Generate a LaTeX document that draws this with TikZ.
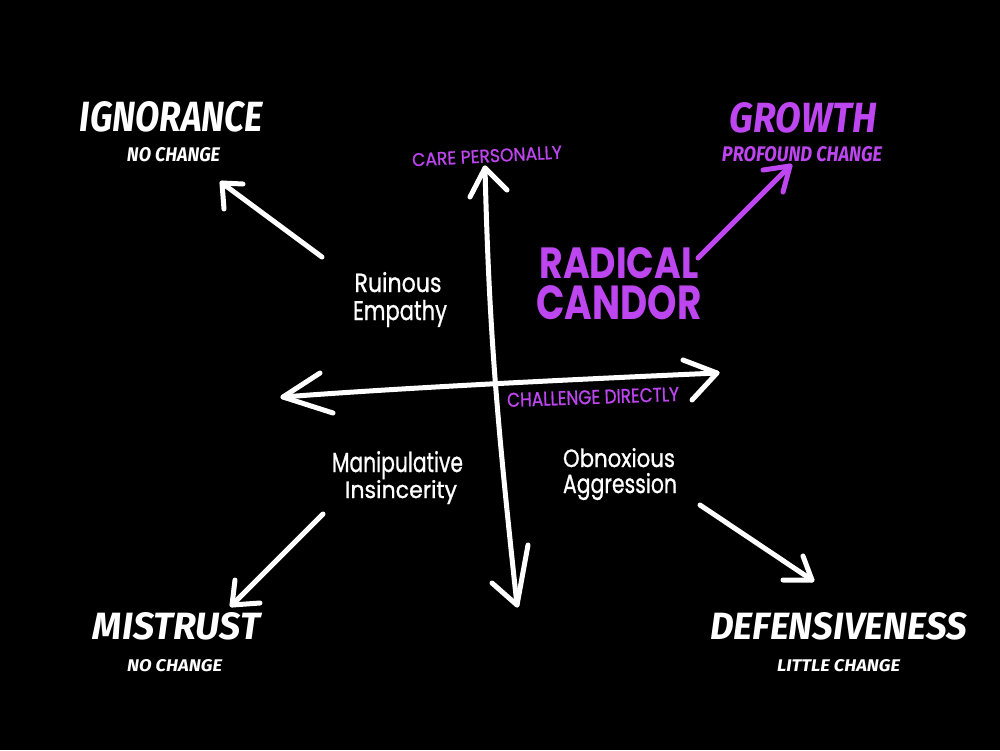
\documentclass[tikz,border=0pt]{standalone}
\usepackage{graphicx}
\usepackage{fontspec}
\setmainfont{Fira Sans}
\newfontfamily\brush{Fira Sans}
\newfontfamily\hand{Poppins}[FakeBold=1]
\newfontfamily\handb{Poppins}
\definecolor{candor}{RGB}{190,70,240}
\newcommand{\fitbox}[3]{\resizebox{#1pt}{#2pt}{#3}}
\tikzset{
  stroke/.style={white, line width=5pt, line cap=round, line join=round},
  pstroke/.style={stroke, candor},
  title/.style={inner sep=0pt, text=white, font=\brush\bfseries\itshape},
  ptitle/.style={title, text=candor},
  hlabel/.style={inner sep=0pt, text=white, font=\hand, anchor=base},
  plabel/.style={inner sep=0pt, text=candor, font=\hand}
}
\begin{document}
\begin{tikzpicture}[x=1pt,y=-1pt]
\fill[black] (0,0) rectangle (1000,750);
\useasboundingbox (0,0) rectangle (1000,750);

% outcome titles
\node[title]  (ign)    at (171.5,117)  {\fitbox{183}{30}{IGNORANCE}};
\node[title]  (ignsub) at (173.5,155)  {\fitbox{93}{14}{NO CHANGE}};
\node[ptitle] (gro)    at (803.5,118)  {\fitbox{147}{30}{GROWTH}};
\node[ptitle] (grosub) at (802,154.5)  {\fitbox{160}{15}{PROFOUND CHANGE}};
\node[title]  (mis)    at (176.5,626.5){\fitbox{167}{27}{MISTRUST}};
\node[title]  (missub) at (174.5,666)  {\fitbox{95}{12}{NO CHANGE}};
\node[title]  (def)    at (838.5,626.5){\fitbox{257}{27}{DEFENSIVENESS}};
\node[title]  (defsub) at (838.5,666)  {\fitbox{123}{12}{LITTLE CHANGE}};

% radical candor
\node[plabel, align=center, font={\handb\bfseries\fontsize{10}{41}\selectfont}] (rc)
  at (619,283.5) {\fitbox{159}{31}{RADICAL}\\\fitbox{165}{34}{CANDOR}};

% axis labels
\node[plabel, rotate=3] (care) at (487,156) {\fitbox{150}{13}{CARE PERSONALLY}};
\node[plabel, rotate=2] (chal) at (593,397) {\fitbox{172}{14}{CHALLENGE DIRECTLY}};

% quadrant labels
\node[hlabel] (re1) at (398,292) {\fitbox{87}{20}{Ruinous}};
\node[hlabel] (re2) at (400,320) {\fitbox{94}{20}{Empathy}};
\node[hlabel] (mi1) at (397.5,472) {\fitbox{131}{21}{Manipulative}};
\node[hlabel] (mi2) at (401,498) {\fitbox{112}{18}{Insincerity}};
\node[hlabel] (oa1) at (619,467) {\fitbox{112}{19}{Obnoxious}};
\node[hlabel] (oa2) at (620,493) {\fitbox{114}{20}{Aggression}};

% axis coordinates
\coordinate (vt)  at (485,168);
\coordinate (vb)  at (517,605);
\coordinate (vt1) at (470,197);
\coordinate (vt2) at (507,190);
\coordinate (vb1) at (492,583);
\coordinate (vb2) at (528,545);
\coordinate (hl)  at (283,397);
\coordinate (hr)  at (717,373);
\coordinate (hl1) at (320,373);
\coordinate (hl2) at (333,413);
\coordinate (hr1) at (683,360);
\coordinate (hr2) at (692,400);

\draw[stroke] (vt) .. controls (489,330) and (497,420) .. (vb);
\draw[stroke] (vt1) -- (vt) -- (vt2);
\draw[stroke] (vb1) -- (vb) -- (vb2);
\draw[stroke] (hl) .. controls (400,388) and (560,380) .. (hr);
\draw[stroke] (hl1) -- (hl) -- (hl2);
\draw[stroke] (hr1) -- (hr) -- (hr2);

% outcome arrows
\coordinate (a1s) at (322,257);
\coordinate (a1t) at (222,183);
\coordinate (a1b) at (243,184);
\coordinate (a1c) at (224,209);
\draw[stroke] (a1s) -- (a1t);
\draw[stroke] (a1b) -- (a1t) -- (a1c);

\coordinate (a2s) at (698,258);
\coordinate (a2t) at (790,166);
\coordinate (a2b) at (763,170);
\coordinate (a2c) at (783,192);
\draw[pstroke] (a2s) -- (a2t);
\draw[pstroke] (a2b) -- (a2t) -- (a2c);

\coordinate (a3s) at (323,514);
\coordinate (a3t) at (232,605);
\coordinate (a3b) at (235,580);
\coordinate (a3c) at (260,603);
\draw[stroke] (a3s) -- (a3t);
\draw[stroke] (a3b) -- (a3t) -- (a3c);

\coordinate (a4s) at (700,505);
\coordinate (a4t) at (812,580);
\coordinate (a4b) at (783,580);
\coordinate (a4c) at (803,556);
\draw[stroke] (a4s) -- (a4t);
\draw[stroke] (a4b) -- (a4t) -- (a4c);
\end{tikzpicture}
\end{document}
